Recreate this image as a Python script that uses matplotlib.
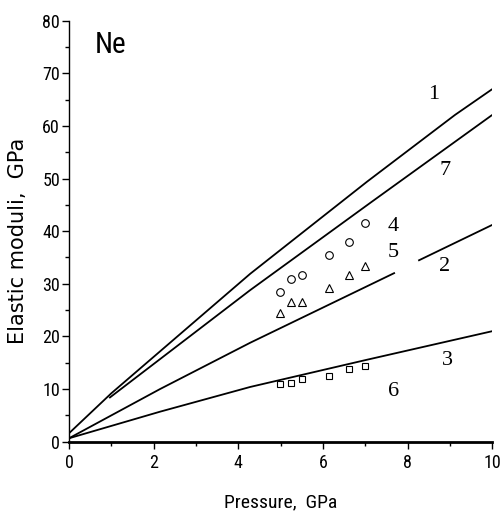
import matplotlib
matplotlib.use("Agg")
import matplotlib.pyplot as plt

# Curves
line1_x = [0.0, 1.0, 4.28, 7.04, 9.12, 10.0]
line1_y = [1.6, 9.2, 31.9, 49.4, 62.1, 67.0]
line7_x = [0.95, 4.28, 7.12, 10.0]
line7_y = [8.3, 28.8, 45.4, 62.1]
line2a_x = [0.0, 2.15, 4.28, 7.7]
line2a_y = [0.65, 10.0, 18.8, 32.1]
line2b_x = [8.25, 10.0]
line2b_y = [34.4, 41.2]
line3_x = [0.0, 2.15, 4.28, 7.0, 10.0]
line3_y = [0.65, 5.7, 10.4, 15.5, 21.0]

# Experimental points
pts_x = [4.99, 5.24, 5.5, 6.14, 6.62, 6.99]
circ_y = [28.4, 30.9, 31.6, 35.5, 37.9, 41.5]
tri_y = [24.4, 26.5, 26.6, 29.2, 31.7, 33.3]
sq_y = [10.9, 11.2, 11.9, 12.5, 13.8, 14.3]

curve_labels = ["1", "7", "4", "5", "2", "3", "6"]
label_x = [8.61, 8.89, 7.66, 7.66, 8.87, 8.93, 7.67]
label_y = [66.0, 51.6, 40.8, 36.0, 33.3, 15.4, 9.5]

NARROW = "Roboto Condensed"

fig = plt.figure(figsize=(5.0, 5.13), dpi=100)
ax = fig.add_axes([0.138, 0.139, 0.8466, 0.8207])

lw = 1.3
for xs, ys in [(line1_x, line1_y), (line7_x, line7_y), (line2a_x, line2a_y),
               (line2b_x, line2b_y), (line3_x, line3_y)]:
    ax.plot(xs, ys, color="black", lw=lw, solid_capstyle="butt")

ms = 5.5
ax.plot(pts_x, circ_y, ls="none", marker="o", mfc="white", mec="black", mew=0.8, ms=ms)
ax.plot(pts_x, tri_y, ls="none", marker="^", mfc="white", mec="black", mew=0.8, ms=ms)
ax.plot(pts_x, sq_y, ls="none", marker="s", mfc="white", mec="black", mew=0.8, ms=ms - 0.5)

for t, x, y in zip(curve_labels, label_x, label_y):
    ax.text(x, y, t, fontsize=16, family="Liberation Serif", ha="center", va="center")

ax.text(0.62, 75.3, "Ne", fontsize=21, family=NARROW, ha="left", va="center")

ax.set_xlim(0, 10)
ax.set_ylim(0, 80)
ax.set_xticks([0, 2, 4, 6, 8, 10])
ax.set_xticks([1, 3, 5, 7, 9], minor=True)
ax.set_yticks(range(0, 81, 10))
ax.set_yticks(range(5, 80, 10), minor=True)

for s in ["top", "right"]:
    ax.spines[s].set_visible(False)
ax.spines["left"].set_linewidth(1.0)
ax.spines["bottom"].set_linewidth(2.0)

ax.tick_params(which="major", direction="out", length=5, width=1.0, labelsize=13, pad=1.5)
ax.tick_params(which="minor", direction="out", length=3, width=1.0)
ax.tick_params(axis="x", which="major", pad=4)
for lab in ax.get_xticklabels() + ax.get_yticklabels():
    lab.set_family(NARROW)

ax.set_xlabel("Pressure,  GPa", fontsize=14, family=NARROW, va="center")
ax.xaxis.set_label_coords(0.5, -0.143)
ax.set_ylabel("Elastic moduli,  GPa", fontsize=15, family="DejaVu Sans", va="center")
ax.yaxis.set_label_coords(-0.12, 0.477)

fig.savefig("out.png", dpi=100)
